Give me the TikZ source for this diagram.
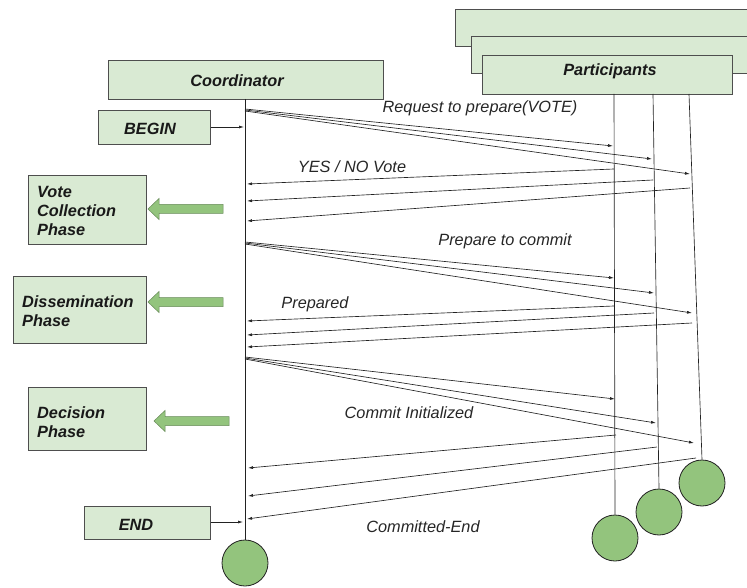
\documentclass[tikz,border=0pt]{standalone}
\usepackage{fontspec}
\setmainfont{Liberation Sans}
\usetikzlibrary{arrows.meta}
\definecolor{boxfill}{HTML}{D9EAD3}
\definecolor{dotfill}{HTML}{93C47D}
\definecolor{linec}{HTML}{222222}
\newcommand\fatarr[3]{% tip x, right x, centre y
  \filldraw[fat] (#2,#3-4.5) -- (#1+11,#3-4.5) -- (#1+11,#3-10.5) -- (#1,#3) -- (#1+11,#3+10.5) -- (#1+11,#3+4.5) -- (#2,#3+4.5) -- cycle;}
\begin{document}
\begin{tikzpicture}[x=1pt,y=-1pt,
  box/.style={draw=linec!80, line width=0.8pt, fill=boxfill, inner sep=0pt, anchor=north west},
  boxtxt/.style={font=\fontsize{16.3}{19}\selectfont\bfseries\itshape, text=black!90, inner sep=0pt},
  msg/.style={draw=linec, line width=0.65pt, -{Latex[length=5pt,width=3pt]}},
  lbl/.style={font=\fontsize{16.3}{19}\selectfont\itshape, text=black!85, inner sep=0pt},
  life/.style={draw=linec, line width=0.65pt},
  dot/.style={circle, draw=linec, line width=0.8pt, fill=dotfill, minimum size=46pt, inner sep=0pt},
  fat/.style={fill=dotfill, draw=dotfill!70!black, line width=0.5pt}]
\useasboundingbox (0,0) rectangle (747,588);
\clip (0,0) rectangle (747,588);

% participant stacked boxes
\node[box, minimum width=300, minimum height=37] (pback) at (455,9) {};
\node[box, minimum width=290, minimum height=37] (pmid) at (471,36) {};
\node[box, minimum width=250, minimum height=39] (pfront) at (482,55) {};
\node[boxtxt] (ptxt) at (610,71) {Participants};

% coordinator
\node[box, minimum width=275, minimum height=39] (coord) at (108,60) {};
\node[boxtxt] (ctxt) at (237,81) {Coordinator};

% left boxes
\node[box, minimum width=112, minimum height=34] (begin) at (98,110) {};
\node[boxtxt] (begint) at (150,129) {BEGIN};
\node[box, minimum width=126, minimum height=33] (endb) at (84,506) {};
\node[boxtxt] (endt) at (136,525) {END};
\node[box, minimum width=118, minimum height=69] (vote) at (28,175) {};
\node[boxtxt, anchor=north west, align=left] (votet) at (37,186) {Vote\\Collection\\Phase};
\node[box, minimum width=133, minimum height=67] (diss) at (13,276) {};
\node[boxtxt, anchor=north west, align=left] (disst) at (22,295) {Dissemination\\Phase};
\node[box, minimum width=118, minimum height=63] (dec) at (28,387) {};
\node[boxtxt, anchor=north west, align=left] (dect) at (37,406) {Decision\\Phase};

% fat arrows
\fatarr{148}{223}{209}
\fatarr{148}{223}{302}
\fatarr{154}{229}{421}

% end circles
\node[dot] (cend) at (245,563) {};
\node[dot] (p1end) at (615,538) {};
\node[dot] (p2end) at (659,512) {};
\node[dot] (p3end) at (702,483) {};

% lifelines
\coordinate (ctop) at (245,99);
\draw[life] (ctop) -- (cend.north);
\coordinate (p1top) at (614,94);
\coordinate (p2top) at (653,94);
\coordinate (p3top) at (689,94);
\draw[life] (p1top) -- (p1end.north);
\draw[life] (p2top) -- (p2end.north);
\draw[life] (p3top) -- (p3end.north);

% BEGIN / END arrows
\coordinate (beginhit) at (244,127);
\coordinate (endhit) at (243,522);
\draw[msg] (begin.east |- beginhit) -- (beginhit);
\draw[msg] (endb.east |- endhit) -- (endhit);

% messages
\foreach \n/\xa/\ya/\xb/\yb in {
  r1/245/109/613/146, r2/245/110/652/159, r3/245/111/690/174,
  v1/614/169/247/184, v2/653/180/247/201, v3/690/188/247/221,
  q1/245/242/614/278, q2/245/243/654/293, q3/245/244/692/313,
  d1/614/306/247/321, d2/654/313/247/335, d3/692/323/247/347,
  c1/245/357/615/399, c2/245/358/656/423, c3/245/359/694/443,
  e1/616/435/248/468, e2/657/447/248/496, e3/696/458/247/519}{
  \coordinate (\n s) at (\xa,\ya);
  \coordinate (\n t) at (\xb,\yb);
  \draw[msg] (\n s) -- (\n t);
}

% labels
\node[lbl] (l1) at (480,108) {Request to prepare(VOTE)};
\node[lbl] (l2) at (352,167) {YES / NO Vote};
\node[lbl] (l3) at (505,241) {Prepare to commit};
\node[lbl] (l4) at (315,304) {Prepared};
\node[lbl] (l5) at (409,413) {Commit Initialized};
\node[lbl] (l6) at (423,527) {Committed-End};
\end{tikzpicture}
\end{document}
